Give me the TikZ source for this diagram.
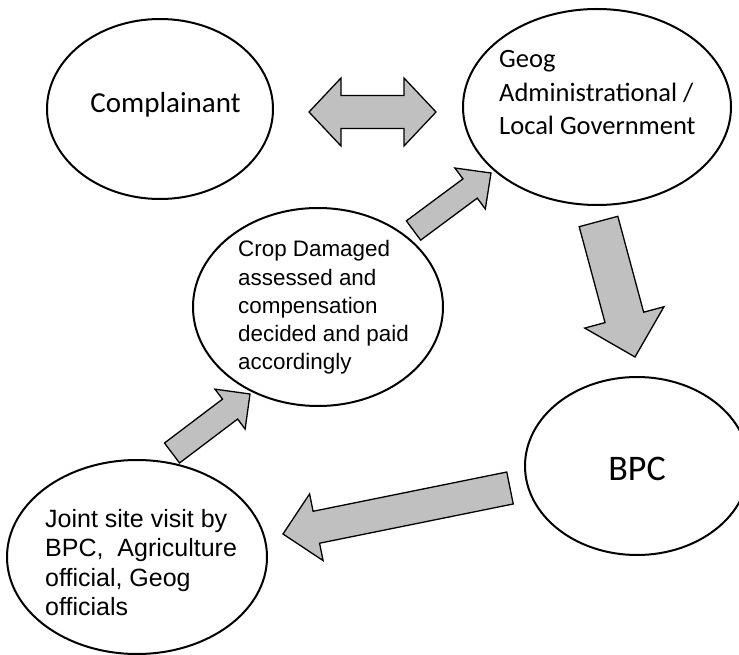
\documentclass[tikz,border=0pt]{standalone}
\usepackage{fontspec}
\setmainfont{Carlito}
\newfontfamily\arialfont{Liberation Sans}
\usetikzlibrary{shapes.geometric,calc}
\definecolor{arrowgray}{HTML}{C0C0C0}
\tikzset{
  bubble/.style={draw=black, line width=2pt, ellipse, inner sep=0pt, outer sep=0pt},
  blockarrow/.style={draw=black, fill=arrowgray, line width=1.3pt, line join=miter},
  caption/.style={inner sep=0pt, align=left, anchor=north west},
  label/.style={inner sep=0pt, anchor=base},
}
% single block arrow: #1 tail, #2 tip, #3 half shaft width, #4 half head width, #5 head length
\newcommand\flowarrow[5]{%
  \path ($(#2)!#5!(#1)$) coordinate (fa-base);
  \draw[blockarrow]
    ($(#1)!#3!90:(#2)$) -- ($(fa-base)!#3!90:(#2)$) -- ($(fa-base)!#4!90:(#2)$)
    -- (#2) -- ($(fa-base)!#4!-90:(#2)$) -- ($(fa-base)!#3!-90:(#2)$)
    -- ($(#1)!#3!-90:(#2)$) -- cycle;
}
% two-headed block arrow: #1 one tip, #2 other tip, #3 half shaft, #4 half head, #5 head length
\newcommand\twowayarrow[5]{%
  \path ($(#1)!#5!(#2)$) coordinate (tw-l) ($(#2)!#5!(#1)$) coordinate (tw-r);
  \draw[blockarrow] (#1) -- ($(tw-l)!#4!90:(#2)$) -- ($(tw-l)!#3!90:(#2)$)
    -- ($(tw-r)!#3!-90:(#1)$) -- ($(tw-r)!#4!-90:(#1)$) -- (#2)
    -- ($(tw-r)!#4!90:(#1)$) -- ($(tw-r)!#3!90:(#1)$)
    -- ($(tw-l)!#3!-90:(#2)$) -- ($(tw-l)!#4!-90:(#2)$) -- cycle;
}
\begin{document}
\begin{tikzpicture}[x=1pt,y=-1pt]
  \useasboundingbox (0,0) rectangle (739,655);
  \fill[white] (0,0) rectangle (739,655);

  % stakeholders
  \node[bubble, minimum width=226pt, minimum height=180pt] (comp)  at (160,109) {};
  \node[bubble, minimum width=268pt, minimum height=196pt] (geog)  at (597,107) {};
  \node[bubble, minimum width=250pt, minimum height=198pt] (crop)  at (318,307) {};
  \node[bubble, minimum width=224pt, minimum height=178pt] (bpc)   at (637,466) {};
  \node[bubble, minimum width=260pt, minimum height=194pt] (joint) at (137,557) {};

  % arrow end points
  \coordinate (pair-l)  at (309,112);
  \coordinate (pair-r)  at (436,112);
  \coordinate (cg-tail) at (413.5,230.5);
  \coordinate (cg-tip)  at (491,173);
  \coordinate (gb-tail) at (598.5,221.5);
  \coordinate (gb-tip)  at (635,357);
  \coordinate (bj-tail) at (510,488);
  \coordinate (bj-tip)  at (283,534);
  \coordinate (jc-tail) at (172,453);
  \coordinate (jc-tip)  at (250,394);

  % flow arrows
  \twowayarrow{pair-l}{pair-r}{16.5pt}{34pt}{32pt}
  \flowarrow{cg-tail}{cg-tip}{12pt}{25.5pt}{26pt}
  \flowarrow{gb-tail}{gb-tip}{20pt}{41pt}{41pt}
  \flowarrow{bj-tail}{bj-tip}{16.3pt}{34pt}{34pt}
  \flowarrow{jc-tail}{jc-tip}{12.5pt}{25pt}{25pt}

  % texts
  \node[label, font=\fontsize{29}{35}\selectfont] (comp-text) at (165.5,112.7) {Complainant};
  \node[caption, font=\fontsize{26.5}{33.5}\selectfont] (geog-text) at (499,50.5)
    {Geog\\Administrational /\\Local Government};
  \node[caption, font=\arialfont\fontsize{22.4}{28.3}\selectfont] (crop-text) at (238,240.3)
    {Crop Damaged\\assessed and\\compensation\\decided and paid\\accordingly};
  \node[label, font=\fontsize{36}{43}\selectfont] (bpc-text) at (637,480) {BPC};
  \node[caption, font=\arialfont\fontsize{25}{29.5}\selectfont] (joint-text) at (45,508.7)
    {Joint site visit by\\BPC,\ \ Agriculture\\official, Geog\\officials};
\end{tikzpicture}
\end{document}
